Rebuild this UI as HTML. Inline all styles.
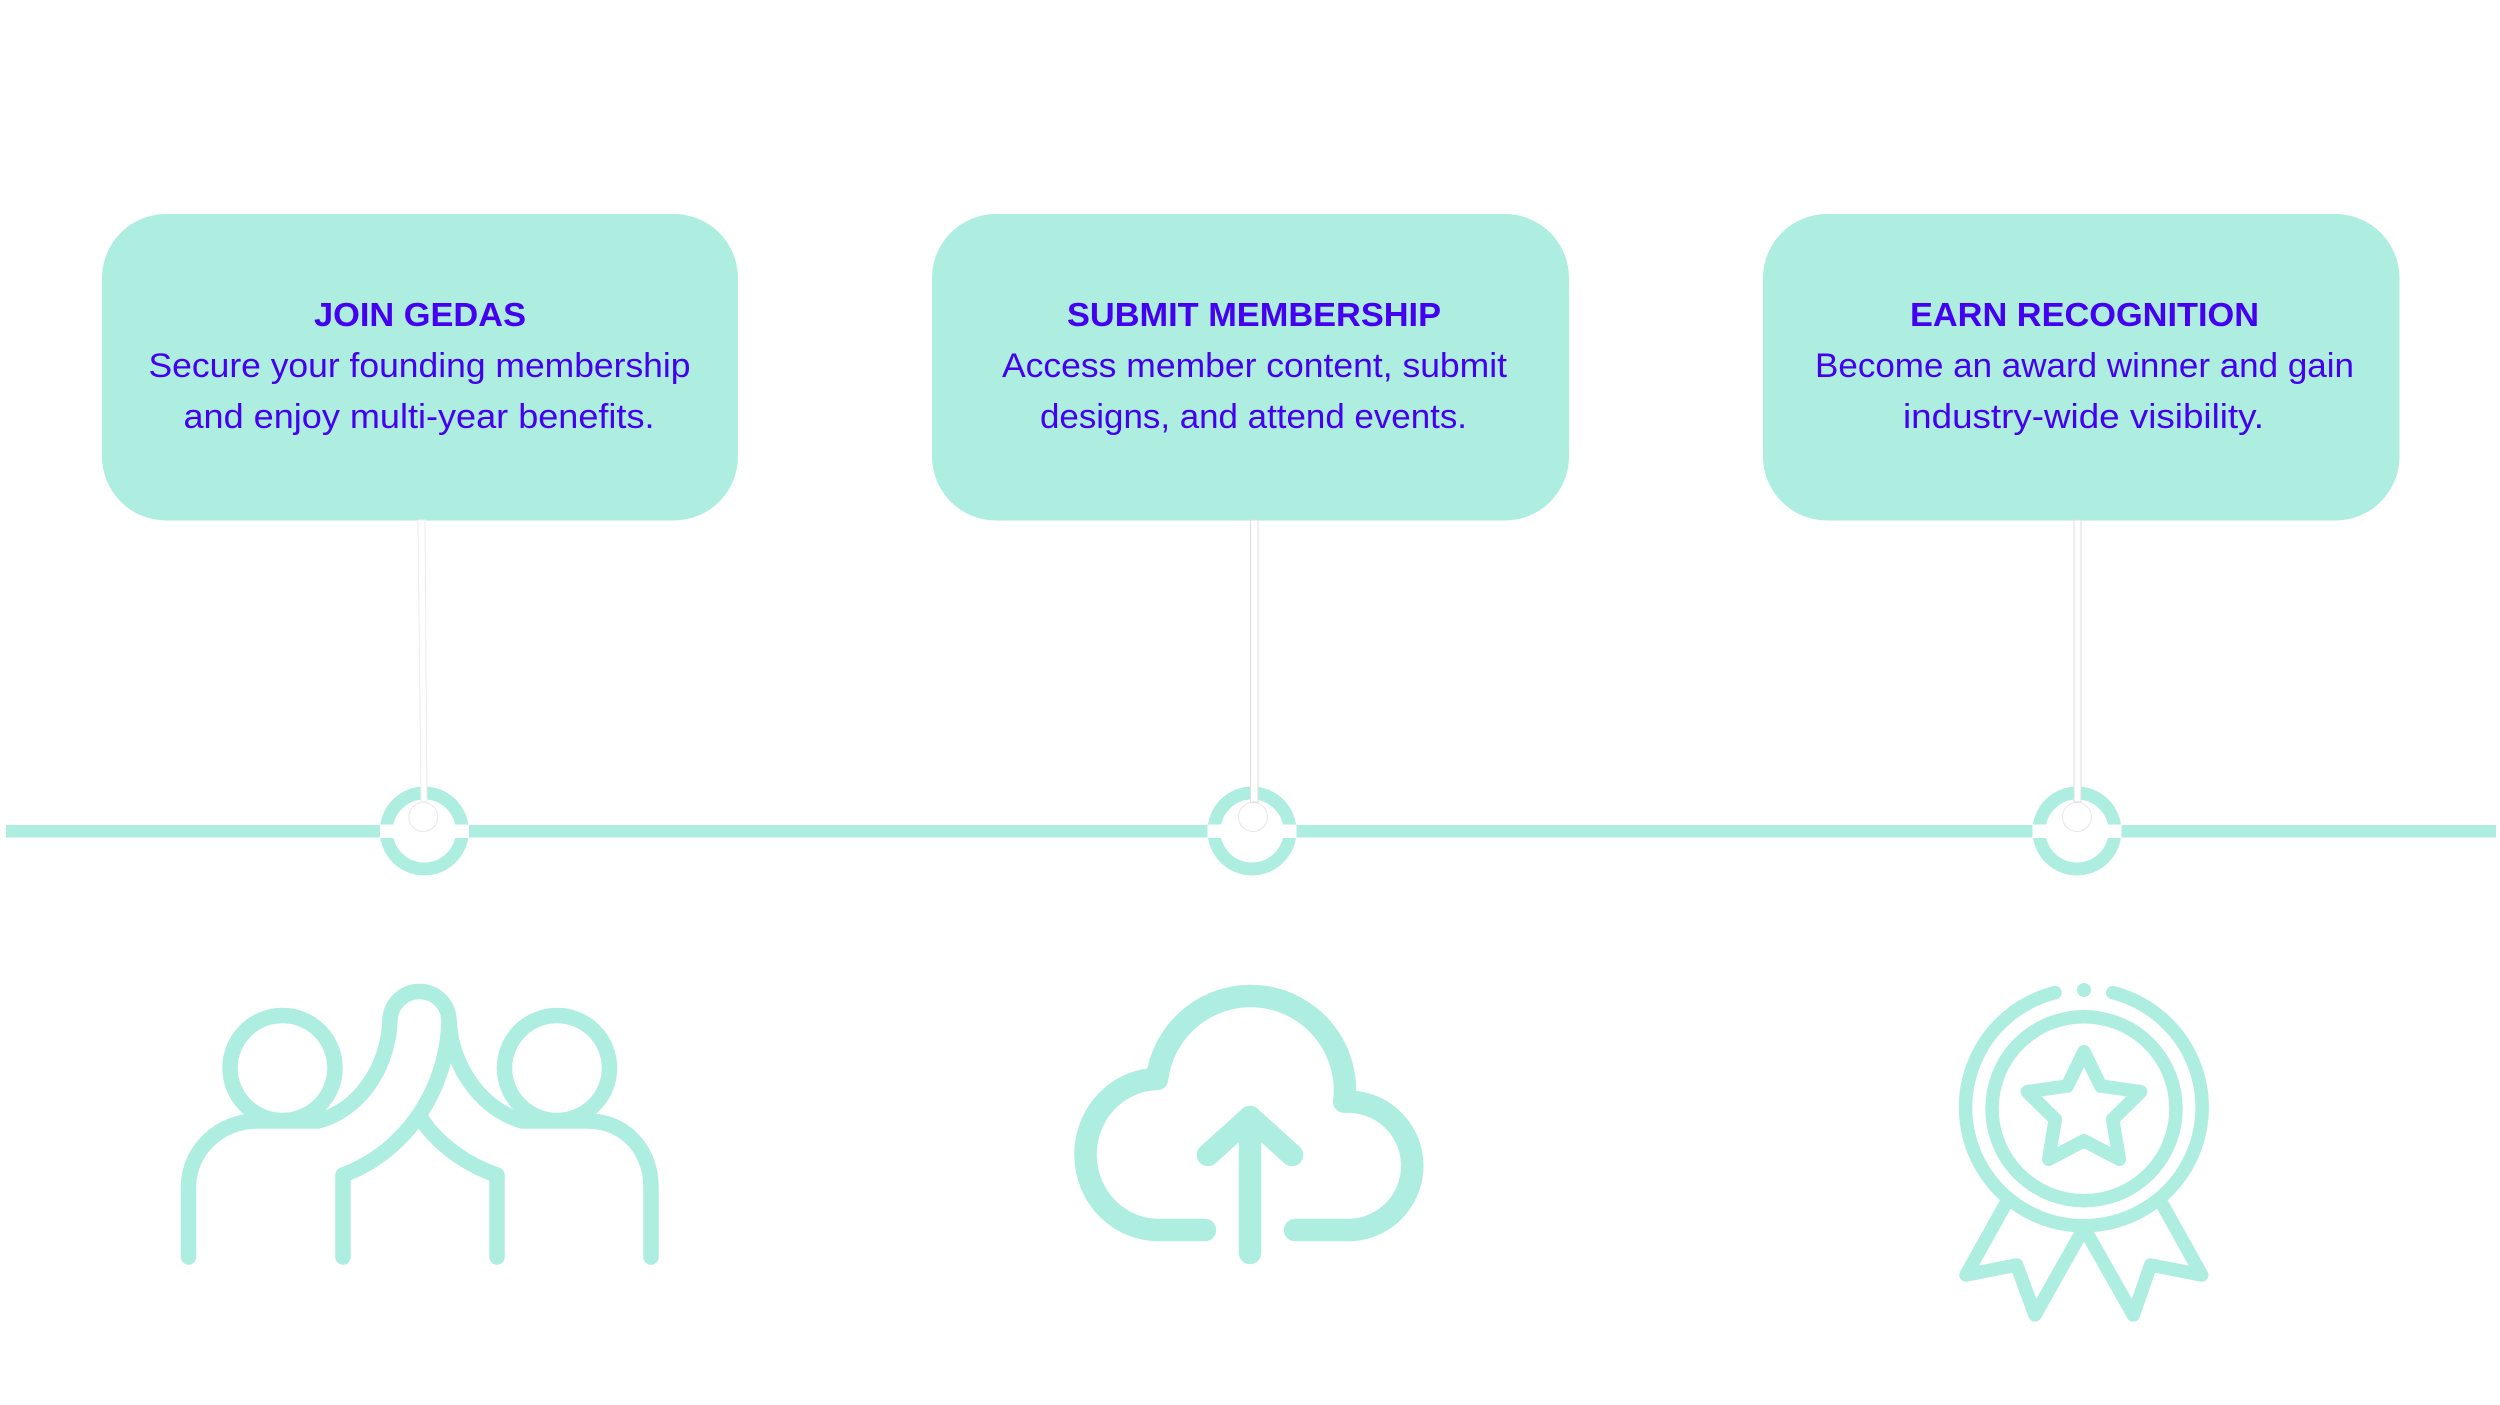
<!DOCTYPE html>
<html><head><meta charset="utf-8"><style>
html,body{margin:0;padding:0;background:#fff}
svg{display:block}
text{font-family:"Liberation Sans",sans-serif;fill:#4400f0}
.t{font-weight:700;font-size:33px}
.d{font-size:34px}
.i{fill:none;stroke:#aeeee1;stroke-linecap:round;stroke-linejoin:round}
</style></head><body>
<svg width="2500" height="1405" viewBox="0 0 2500 1405" xmlns="http://www.w3.org/2000/svg">
<rect width="2500" height="1405" fill="#fff"/>
<rect x="102" y="214" width="636" height="306.500" rx="64" fill="#aeeee1"/>
<rect x="932" y="214" width="637" height="306.500" rx="64" fill="#aeeee1"/>
<rect x="1763" y="214" width="636.500" height="306.500" rx="64" fill="#aeeee1"/>
<text class="t" x="314" y="326" textLength="212" lengthAdjust="spacingAndGlyphs">JOIN GEDAS</text>
<text class="d" x="148.500" y="377" textLength="542" lengthAdjust="spacingAndGlyphs">Secure your founding membership</text>
<text class="d" x="183.500" y="428" textLength="471" lengthAdjust="spacingAndGlyphs">and enjoy multi-year benefits.</text>
<text class="t" x="1067" y="326" textLength="374" lengthAdjust="spacingAndGlyphs">SUBMIT MEMBERSHIP</text>
<text class="d" x="1002" y="377" textLength="505" lengthAdjust="spacingAndGlyphs">Access member content, submit</text>
<text class="d" x="1040" y="428" textLength="427" lengthAdjust="spacingAndGlyphs">designs, and attend events.</text>
<text class="t" x="1910" y="326" textLength="349" lengthAdjust="spacingAndGlyphs">EARN RECOGNITION</text>
<text class="d" x="1815" y="377" textLength="539" lengthAdjust="spacingAndGlyphs">Become an award winner and gain</text>
<text class="d" x="1903" y="428" textLength="361" lengthAdjust="spacingAndGlyphs">industry-wide visibility.</text>

<rect x="6" y="825" width="2490" height="12.500" fill="#aeeee1"/>
<g fill="none" stroke="#aeeee1" stroke-width="13">
<circle cx="424.300" cy="831" r="38"/><circle cx="1252" cy="831" r="38"/><circle cx="2077" cy="831" r="38"/>
</g>
<g fill="#fff">
<rect x="380" y="824.500" width="89" height="13.500"/><rect x="1207.500" y="824.500" width="89" height="13.500"/><rect x="2032.500" y="824.500" width="89" height="13.500"/>
<circle cx="423.300" cy="817" r="14.500" stroke="#e8e8e8" stroke-width="1"/>
<circle cx="1253" cy="817" r="14.500" stroke="#e8e8e8" stroke-width="1"/>
<circle cx="2077" cy="817" r="14.500" stroke="#e8e8e8" stroke-width="1"/>
<polygon points="418,520 425,520 427,802 421,802" stroke="#ececec" stroke-width="1"/>
<rect x="1250.500" y="520" width="7.500" height="282" stroke="#dedede" stroke-width="1"/>
<rect x="2074" y="520" width="7" height="282" stroke="#dedede" stroke-width="1"/>
</g>

<g class="i" stroke-width="15.500">
<circle cx="282.500" cy="1068" r="52.500"/>
<circle cx="557" cy="1068" r="52.500"/>
<path d="M188.500 1257V1187C188.500 1150 220 1121 257 1121H318C360 1110 388 1067 390 1021A29.500 29.500 0 0 1 449 1021C447 1093 403 1153 343 1175V1257"/>
<path d="M449 1021C452 1067 480 1108 522 1121H588C625 1121 651 1150 651 1187V1257"/>
<path d="M422 1120C440 1147 470 1166 497 1175V1257"/>
</g>

<g class="i" stroke-width="22.500">
<path d="M1205 1230H1160A73 75.500 0 0 1 1157 1079A93.700 93.700 0 0 1 1344.300 1101.700A64 64 0 0 1 1351.700 1230H1295"/>
<path d="M1250 1253V1117"/>
<path d="M1208 1155L1250 1117L1292 1155"/>
</g>

<g class="i" stroke-width="13.500">
<path d="M2112.700 992.700A118.300 118.300 0 1 1 2055 992.700"/>
<circle cx="2084" cy="1108.700" r="92"/>
<path d="M2084 1051.700L2100.700 1086L2140.700 1091.700L2112.700 1119.300L2119.300 1159.300L2084 1140.700L2048.700 1159.300L2055.300 1119.300L2027.300 1091.700L2067.300 1086Z"/>
<path d="M2005 1205L1966 1275L2016.700 1265L2035 1315L2080 1235"/>
<path d="M2162.700 1205L2201.700 1275L2150.700 1265L2133.300 1315L2088 1235"/>
</g>
<circle cx="2084" cy="990" r="7" fill="#aeeee1"/>
</svg>
</body></html>
